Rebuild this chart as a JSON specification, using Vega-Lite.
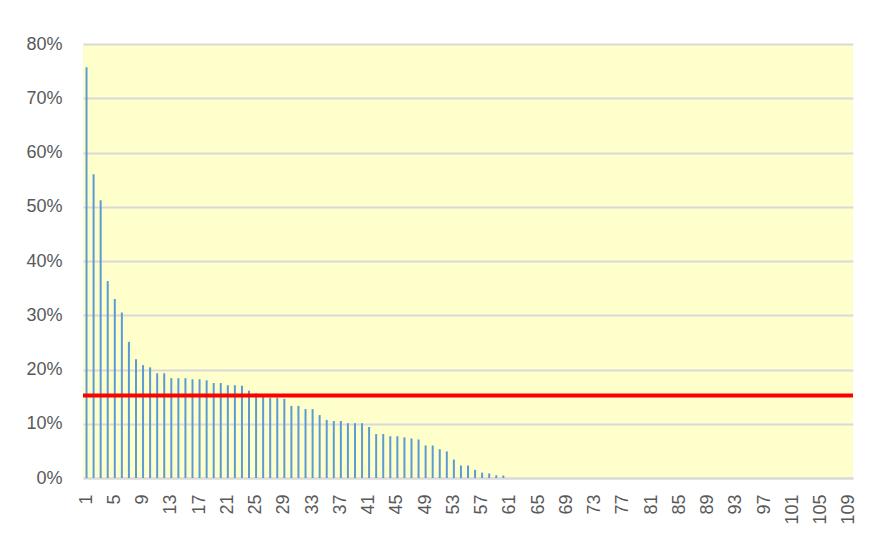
{
  "$schema": "https://vega.github.io/schema/vega-lite/v6.json",
  "width": 770,
  "height": 434,
  "autosize": "none",
  "padding": {"left": 83, "top": 44, "right": 17, "bottom": 56},
  "background": "white",
  "config": {
    "view": {"fill": "#FFFFCC", "stroke": null},
    "axis": {
      "labelFont": "Liberation Sans",
      "labelFontSize": 18,
      "labelColor": "#595959",
      "ticks": false,
      "tickSize": 0,
      "title": null,
      "gridColor": "#D9D9D9",
      "gridWidth": 2,
      "domainColor": "#D9D9D9",
      "domainWidth": 2
    }
  },
  "datasets": {
    "bars": [
      {"k": 1, "v": 0.757}, {"k": 2, "v": 0.560}, {"k": 3, "v": 0.512}, {"k": 4, "v": 0.363},
      {"k": 5, "v": 0.330}, {"k": 6, "v": 0.305}, {"k": 7, "v": 0.251}, {"k": 8, "v": 0.219},
      {"k": 9, "v": 0.208}, {"k": 10, "v": 0.204}, {"k": 11, "v": 0.193}, {"k": 12, "v": 0.193},
      {"k": 13, "v": 0.184}, {"k": 14, "v": 0.184}, {"k": 15, "v": 0.184}, {"k": 16, "v": 0.182},
      {"k": 17, "v": 0.182}, {"k": 18, "v": 0.180}, {"k": 19, "v": 0.175}, {"k": 20, "v": 0.175},
      {"k": 21, "v": 0.171}, {"k": 22, "v": 0.171}, {"k": 23, "v": 0.170}, {"k": 24, "v": 0.161},
      {"k": 25, "v": 0.156}, {"k": 26, "v": 0.150}, {"k": 27, "v": 0.148}, {"k": 28, "v": 0.148},
      {"k": 29, "v": 0.146}, {"k": 30, "v": 0.133}, {"k": 31, "v": 0.133}, {"k": 32, "v": 0.127},
      {"k": 33, "v": 0.127}, {"k": 34, "v": 0.116}, {"k": 35, "v": 0.107}, {"k": 36, "v": 0.105},
      {"k": 37, "v": 0.105}, {"k": 38, "v": 0.101}, {"k": 39, "v": 0.101}, {"k": 40, "v": 0.101},
      {"k": 41, "v": 0.094}, {"k": 42, "v": 0.081}, {"k": 43, "v": 0.081}, {"k": 44, "v": 0.077},
      {"k": 45, "v": 0.077}, {"k": 46, "v": 0.075}, {"k": 47, "v": 0.073}, {"k": 48, "v": 0.071},
      {"k": 49, "v": 0.060}, {"k": 50, "v": 0.060}, {"k": 51, "v": 0.053}, {"k": 52, "v": 0.049},
      {"k": 53, "v": 0.034}, {"k": 54, "v": 0.023}, {"k": 55, "v": 0.023}, {"k": 56, "v": 0.015},
      {"k": 57, "v": 0.010}, {"k": 58, "v": 0.0085}, {"k": 59, "v": 0.005}, {"k": 60, "v": 0.0045},
      {"k": 61, "v": 0}, {"k": 62, "v": 0}, {"k": 63, "v": 0}, {"k": 64, "v": 0},
      {"k": 65, "v": 0}, {"k": 66, "v": 0}, {"k": 67, "v": 0}, {"k": 68, "v": 0},
      {"k": 69, "v": 0}, {"k": 70, "v": 0}, {"k": 71, "v": 0}, {"k": 72, "v": 0},
      {"k": 73, "v": 0}, {"k": 74, "v": 0}, {"k": 75, "v": 0}, {"k": 76, "v": 0},
      {"k": 77, "v": 0}, {"k": 78, "v": 0}, {"k": 79, "v": 0}, {"k": 80, "v": 0},
      {"k": 81, "v": 0}, {"k": 82, "v": 0}, {"k": 83, "v": 0}, {"k": 84, "v": 0},
      {"k": 85, "v": 0}, {"k": 86, "v": 0}, {"k": 87, "v": 0}, {"k": 88, "v": 0},
      {"k": 89, "v": 0}, {"k": 90, "v": 0}, {"k": 91, "v": 0}, {"k": 92, "v": 0},
      {"k": 93, "v": 0}, {"k": 94, "v": 0}, {"k": 95, "v": 0}, {"k": 96, "v": 0},
      {"k": 97, "v": 0}, {"k": 98, "v": 0}, {"k": 99, "v": 0}, {"k": 100, "v": 0},
      {"k": 101, "v": 0}, {"k": 102, "v": 0}, {"k": 103, "v": 0}, {"k": 104, "v": 0},
      {"k": 105, "v": 0}, {"k": 106, "v": 0}, {"k": 107, "v": 0}, {"k": 108, "v": 0},
      {"k": 109, "v": 0}
    ],
    "avg": [{"avg": 0.152}]
  },
  "layer": [
    {
      "data": {"name": "bars"},
      "mark": {"type": "bar", "color": "#5B9BD5", "width": 2},
      "encoding": {
        "x": {
          "field": "k",
          "type": "ordinal",
          "sort": null,
          "scale": {"paddingInner": 0, "paddingOuter": 0},
          "axis": {
            "values": [1, 5, 9, 13, 17, 21, 25, 29, 33, 37, 41, 45, 49, 53, 57, 61, 65, 69, 73, 77, 81, 85, 89, 93, 97, 101, 105, 109],
            "labelAngle": 270,
            "labelPadding": 16,
            "grid": false,
            "domain": true
          }
        },
        "y": {
          "field": "v",
          "type": "quantitative",
          "scale": {"domain": [0, 0.8], "nice": false},
          "axis": {
            "values": [0, 0.1, 0.2, 0.3, 0.4, 0.5, 0.6, 0.7, 0.8],
            "format": ".0%",
            "labelPadding": 21,
            "grid": true,
            "domain": false
          }
        }
      }
    },
    {
      "data": {"name": "avg"},
      "mark": {"type": "rule", "color": "#FF0000", "strokeWidth": 4},
      "encoding": {
        "y": {"field": "avg", "type": "quantitative"}
      }
    }
  ]
}
